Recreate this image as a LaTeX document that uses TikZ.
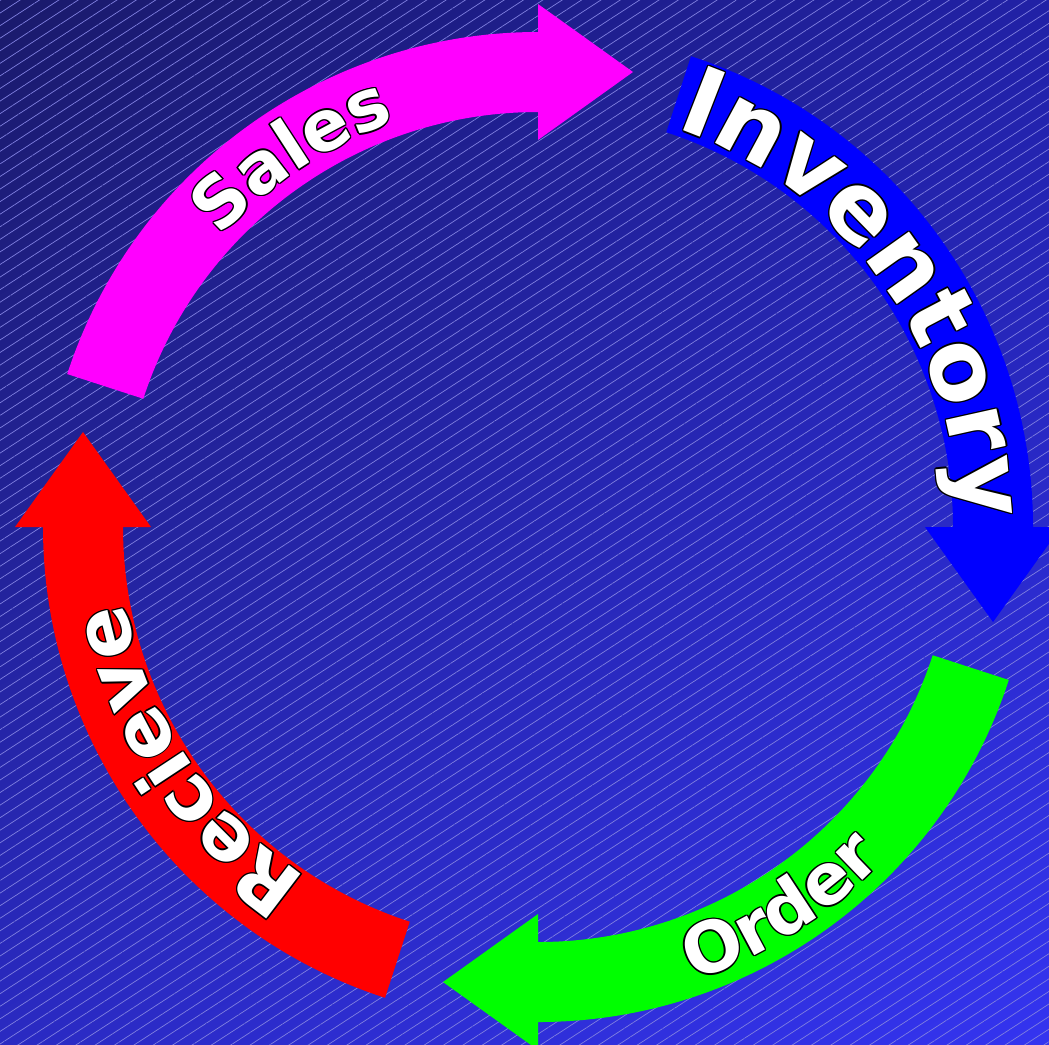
\documentclass[tikz,border=0pt]{standalone}
\usepackage{fontspec}
\newfontfamily\cyclefont{DejaVu Sans}
\usepackage{tikz}
\usetikzlibrary{decorations.text, patterns.meta, shadings, calc}
\definecolor{bgtl}{HTML}{1A1A6B}
\definecolor{bgtr}{HTML}{2121A6}
\definecolor{bgbl}{HTML}{2A2AC2}
\definecolor{bgbr}{HTML}{3434F0}
\definecolor{hatch}{HTML}{8080E0}
\definecolor{salescol}{HTML}{FF00FF}
\definecolor{invcol}{HTML}{0000FF}
\definecolor{ordercol}{HTML}{00FF00}
\definecolor{recvcol}{HTML}{FF0000}

\newcommand\arclabel[5]{%
  \foreach \d in {0,45,...,315}
    \path[lbl=black, decoration={text={|\cyclefont\bfseries\fontsize{#4}{#4}\selectfont|#5}}, shift={(\d:0.4pt)}]
      (#1:#3) arc[start angle=#1, end angle=#2, radius=#3];
  \path[lbl=white, decoration={text={|\cyclefont\bfseries\fontsize{#4}{#4}\selectfont|#5}}]
    (#1:#3) arc[start angle=#1, end angle=#2, radius=#3];
}

\begin{document}
\begin{tikzpicture}[
        lbl/.style={decorate, decoration={text along path, text align=center, text color=#1}},
        cyclearrow/.style={fill=#1, draw=none}
    ]
    \useasboundingbox (-5.38,-5.17) rectangle (5.11,5.27);
    \shade[upper left=bgtl, upper right=bgtr, lower left=bgbl, lower right=bgbr] (-5.38,-5.17) rectangle (5.11,5.27);
    \fill[pattern={Lines[angle=33, distance=3pt, line width=0.2pt]}, pattern color=hatch, fill opacity=0.45] (-5.38,-5.17) rectangle (5.11,5.27);

    \foreach \ang/\col in {90/salescol, 0/invcol, -90/ordercol, 180/recvcol}
        \fill[cyclearrow=\col] (\ang+72:4.95) arc[start angle=\ang+72, end angle=\ang, radius=4.95]
            -- (\ang:5.23) -- ($(\ang:4.55)+(\ang-90:0.95)$) -- (\ang:3.87) -- (\ang:4.15)
            arc[start angle=\ang, end angle=\ang+72, radius=4.15] -- cycle;

    \arclabel{148.5}{98.5}{4.30}{20}{Sales}
    \arclabel{76}{-4}{4.22}{27}{Inventory}
    \arclabel{-82.5}{-32.5}{4.80}{20}{Order}
    \arclabel{-116.5}{-176.5}{4.20}{22}{Recieve}
\end{tikzpicture}
\end{document}
